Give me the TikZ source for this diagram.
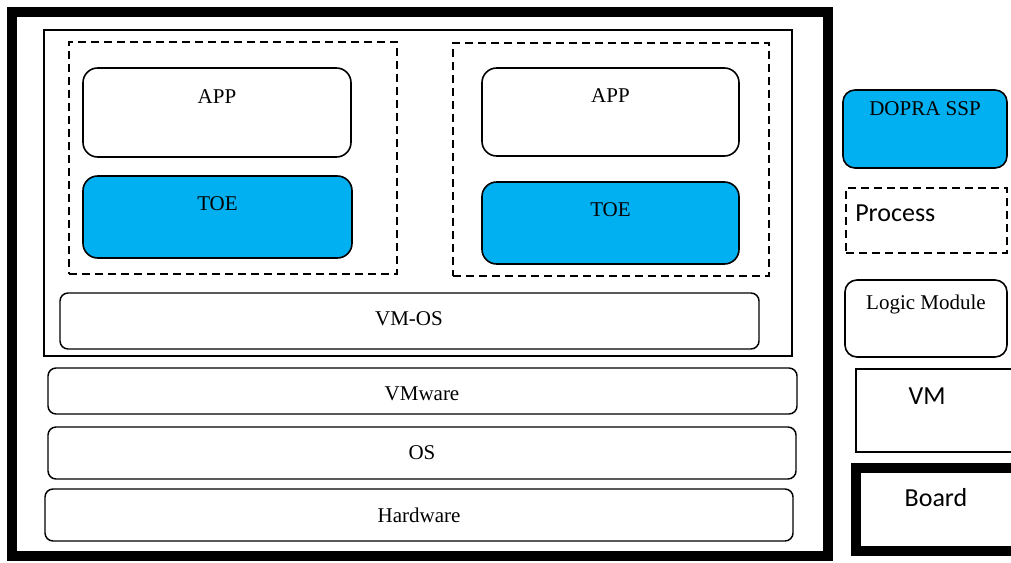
\documentclass[tikz,border=0pt]{standalone}
\usepackage{fontspec}
\setmainfont{Liberation Serif}
\newfontfamily\sansfont{Carlito}
\usepackage{xcolor}
\definecolor{colorToe}{RGB}{0,176,240}
\usetikzlibrary{positioning, fit}
\tikzset{
  layer/.style={draw, rounded corners=6pt, line width=1.1pt, inner sep=0pt},
  module/.style={draw, rounded corners=11pt, line width=1.2pt, inner sep=0pt},
  process/.style={draw, dash pattern=on 6pt off 3.75pt, line width=1.5pt, inner sep=0pt},
  lbl/.style={inner sep=0pt, font=\fontsize{15.75}{18}\selectfont},
  lblsans/.style={inner sep=0pt, font=\sansfont\fontsize{19.5}{22}\selectfont},
}

\begin{document}
\begin{tikzpicture}[x=0.75pt, y=-0.75pt]
\useasboundingbox (0,0) rectangle (1011,563);
\clip (0,0) rectangle (1011,563);
% board and vm frames
\node[draw, line width=7.5pt, inner sep=0pt, fit={(12,12)(828,556)}] (board) {};
\node[draw, line width=2pt, inner sep=0pt, fit={(44,30)(792,356)}] (vm) {};
\node[process, fit={(69,42)(397,274)}] (procL) {};
\node[process, fit={(453,43)(769,276)}] (procR) {};
% left process
\node[module, fit={(83,68)(351,157)}] (appL) {};
\node[lbl, below=16.5pt of appL.north] (appLt) {APP};
\node[module, fill=colorToe, fit={(83,176)(352,258)}] (toeL) {};
\node[lbl, below=15.75pt of toeL.north] (toeLt) {TOE};
% right process
\node[module, fit={(482,68)(739,156)}] (appR) {};
\node[lbl, below=15.75pt of appR.north] (appRt) {APP};
\node[module, fill=colorToe, fit={(482,182)(739,264)}] (toeR) {};
\node[lbl, below=15.75pt of toeR.north] (toeRt) {TOE};
% layers
\node[layer, fit={(60,293)(759,349)}] (vmos) {};
\node[lbl] (vmost) at (409,319) {VM-OS};
\node[layer, fit={(48,368)(797,414)}] (vmware) {};
\node[lbl] (vmwaret) at (422,394) {VMware};
\node[layer, fit={(48,427)(796,479)}] (os) {};
\node[lbl] (ost) at (os) {OS};
\node[layer, fit={(45,489)(793,541)}] (hw) {};
\node[lbl] (hwt) at (hw) {Hardware};
% legend
\node[module, rounded corners=9pt, fill=colorToe, fit={(843,90)(1007,168)}] (legToe) {};
\node[lbl, below=9pt of legToe.north] (legToet) {DOPRA SSP};
\node[process, fit={(846,188)(1007,253)}] (legProc) {};
\node[lblsans, anchor=north west] (legProct) at (855,205) {Process};
\node[module, rounded corners=9pt, fit={(845,280)(1007,357)}] (legMod) {};
\node[lbl, below=11.25pt of legMod.north] (legModt) {Logic Module};
\node[draw, line width=2pt, inner sep=0pt, fit={(856,369)(1030,452)}] (legVm) {};
\node[lblsans, anchor=north] (legVmt) at (927,388) {VM};
\node[draw, line width=7.5pt, inner sep=0pt, fit={(856,468)(1040,551)}] (legBoard) {};
\node[lblsans, anchor=north] (legBoardt) at (936,488) {Board};
\end{tikzpicture}
\end{document}
